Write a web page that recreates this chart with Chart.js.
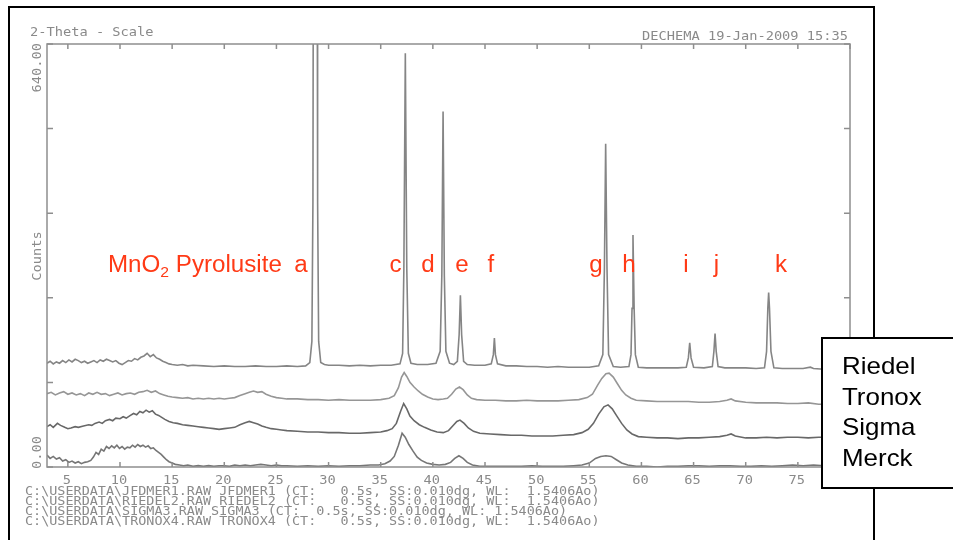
<!DOCTYPE html>
<html>
<head>
<meta charset="utf-8">
<script src="https://cdn.jsdelivr.net/npm/chart.js@4.4.0/dist/chart.umd.min.js"></script>
<style>
html, body { margin: 0; padding: 0; background: #fff; }
#wrap { width: 953px; height: 540px; position: relative; }
</style>
</head>
<body>
<div id="wrap"><canvas id="xrdChart" width="953" height="540"></canvas></div>
<script>
// XRD scans, [2-theta, counts]
const riedelPts = [
  [3.0,157],[3.3,160],[3.6,156],[3.9,159],[4.2,157],[4.5,161],[4.8,158],[5.1,162],[5.4,159],[5.7,163],
  [6.0,161],[6.3,158],[6.6,160],[6.9,157],[7.2,159],[7.5,161],[7.8,158],[8.1,162],[8.4,160],[8.7,163],
  [9.0,161],[9.3,159],[9.6,161],[9.9,157],[10.2,155],[10.5,158],[10.8,161],[11.1,160],[11.4,164],[11.7,162],
  [12.0,166],[12.3,168],[12.6,172],[12.9,167],[13.2,170],[13.5,165],[13.8,163],[14.1,160],[14.4,158],[14.7,156],
  [15.0,155],[15.5,154],[16,155],[16.5,153],[17,154],[18,153],[19,152],[20,153],[21,152],[22,152],
  [23,153],[24,152],[25,152],[26,153],[27,152],[27.8,153],[28.2,158],[28.4,190],[28.5,400],[28.55,900],
  [28.9,900],[28.95,400],[29.05,190],[29.25,158],[29.6,155],[30,154],[31,154],[32,153],[33,154],[34,153],
  [35,154],[36,154],[36.85,156],[37.1,172],[37.22,300],[37.36,626],[37.5,300],[37.65,172],[37.9,157],[38.5,155],
  [39.5,155],[40.3,157],[40.7,175],[40.86,290],[40.98,538],[41.1,290],[41.25,175],[41.6,157],[42.0,155],[42.35,160],
  [42.52,200],[42.64,260],[42.76,200],[42.95,160],[43.3,155],[44,154],[45,154],[45.6,156],[45.8,170],[45.9,195],
  [46.0,170],[46.2,156],[47,153],[48,153],[49,152],[50,152],[51,151],[52,152],[53,151],[54,151],
  [55,151],[55.9,153],[56.3,170],[56.45,300],[56.57,489],[56.7,300],[56.85,170],[57.3,152],[58,151],[58.8,152],
  [59.0,170],[59.1,240],[59.19,351],[59.3,240],[59.42,170],[59.7,151],[60.5,150],[61.5,150],[62.5,150],[63.5,150],
  [64.3,151],[64.5,165],[64.63,188],[64.76,165],[65.0,151],[66,150],[66.8,152],[66.95,175],[67.06,202],[67.17,175],
  [67.35,152],[68,150],[69,150],[70,150],[71,149],[71.8,150],[72.0,175],[72.12,240],[72.2,264],[72.28,240],
  [72.42,175],[72.7,150],[73.5,149],[74.5,149],[75.5,149],[76.2,151],[76.5,149],[77.5,148],[78.5,148],[80,148]
];
const tronoxPts = [
  [3.0,111],[3.4,113],[3.8,109],[4.2,112],[4.6,114],[5.0,110],[5.4,112],[5.8,109],[6.2,111],[6.6,108],
  [7.0,112],[7.4,110],[7.8,113],[8.2,110],[8.6,111],[9.0,108],[9.4,110],[9.8,112],[10.2,109],[10.6,111],
  [11.0,112],[11.4,110],[11.8,113],[12.2,114],[12.6,116],[13.0,113],[13.4,115],[13.8,111],[14.2,109],[14.6,107],
  [15.0,106],[15.5,105],[16,104],[16.5,105],[17,103],[17.5,104],[18,103],[18.5,104],[19,103],[19.5,104],
  [20,103],[20.5,104],[21,105],[21.5,108],[22,111],[22.4,113],[22.8,115],[23.2,113],[23.6,114],[24.0,110],
  [24.5,107],[25,105],[25.5,104],[26,103],[27,103],[28,102],[29,102],[30,101],[31,102],[32,101],
  [33,101],[34,101],[35,102],[35.8,104],[36.3,108],[36.7,120],[37.0,136],[37.25,143],[37.5,137],[37.8,128],
  [38.2,121],[38.6,115],[39.0,110],[39.5,106],[40.0,103],[40.5,102],[41.0,103],[41.4,104],[41.8,110],[42.2,118],
  [42.55,121],[42.9,117],[43.3,109],[43.7,104],[44.2,102],[45,101],[46,101],[47,100],[48,100],[49,101],
  [50,100],[51,100],[52,100],[53,101],[54,102],[54.8,105],[55.3,110],[55.8,124],[56.2,134],[56.6,141],
  [56.9,142],[57.3,136],[57.7,126],[58.1,116],[58.5,109],[59.0,104],[59.5,101],[60.5,100],[61.5,99],[62.5,99],
  [63.5,99],[64.5,99],[65.5,98],[66.5,98],[67.5,99],[68.2,101],[68.6,103],[69.0,100],[70,98],[71,97],
  [72,97],[73,97],[74,96],[75,96],[76,97],[77,95],[78,95],[79,95],[80,95]
];
const sigmaPts = [
  [3.0,61],[3.3,64],[3.6,60],[4.0,66],[4.3,63],[4.7,60],[5.0,58],[5.3,59],[5.7,61],[6.0,60],
  [6.5,62],[7.0,64],[7.3,63],[7.6,66],[8.0,68],[8.3,66],[8.6,70],[9.0,72],[9.3,70],[9.6,74],
  [10.0,73],[10.3,76],[10.6,74],[11.0,78],[11.3,81],[11.6,79],[11.9,84],[12.2,82],[12.5,86],[12.8,83],
  [13.1,85],[13.4,80],[13.7,78],[14.0,75],[14.3,72],[14.7,69],[15.1,67],[15.5,66],[16.0,64],[16.5,63],
  [17.0,62],[17.5,61],[18.0,60],[18.5,59],[19.0,58],[19.5,57],[20.0,58],[20.5,59],[21.0,60],[21.5,64],
  [22.0,67],[22.4,69],[22.8,67],[23.2,65],[23.6,62],[24.0,60],[24.5,58],[25.0,57],[25.5,56],[26,55],
  [27,54],[28,53],[29,53],[30,52],[31,52],[32,51],[33,51],[34,52],[35,53],[35.6,55],
  [36.1,58],[36.5,66],[36.9,84],[37.2,96],[37.5,88],[37.8,77],[38.2,70],[38.7,64],[39.2,60],[39.8,56],
  [40.4,53],[41.0,52],[41.5,55],[41.9,62],[42.3,69],[42.6,71],[43.0,66],[43.4,59],[43.9,54],[44.5,51],
  [45.5,50],[46.5,49],[47.5,48],[48.5,48],[49.5,47],[50.5,47],[51.5,47],[52.5,48],[53.5,49],[54.3,52],
  [54.9,57],[55.4,66],[55.9,80],[56.4,91],[56.8,94],[57.2,88],[57.6,78],[58.1,66],[58.6,56],[59.1,50],
  [59.7,46],[60.5,45],[61.5,44],[62.5,44],[63.5,43],[64.5,44],[65.5,44],[66.5,45],[67.5,46],[68.2,48],
  [68.6,50],[69.0,47],[70,44],[71,44],[72,45],[73,44],[74,45],[75,45],[76,44],[77,45],
  [78,45],[79,44],[80,44]
];
const merckPts = [
  [3.0,18],[3.3,13],[3.6,16],[3.9,12],[4.2,14],[4.5,9],[4.8,11],[5.1,7],[5.4,9],[5.7,6],
  [6.0,8],[6.3,5],[6.6,7],[6.9,8],[7.2,10],[7.45,15],[7.7,22],[7.95,19],[8.2,27],[8.45,24],
  [8.7,31],[8.95,28],[9.2,32],[9.45,29],[9.7,33],[9.95,28],[10.2,31],[10.45,27],[10.7,30],[10.95,29],
  [11.2,33],[11.45,30],[11.7,34],[11.95,31],[12.2,33],[12.45,30],[12.7,32],[12.95,28],[13.2,29],[13.45,25],
  [13.7,22],[13.95,19],[14.2,15],[14.45,11],[14.7,8],[15.0,6],[15.3,4],[15.7,3],[16.1,2],[16.5,3],
  [17,1],[17.5,2],[18,1],[18.5,2],[19,1],[19.5,2],[20,2],[20.5,1],[21,3],[21.5,2],
  [22,3],[22.5,2],[23,3],[23.5,4],[24,3],[24.5,2],[25,3],[25.5,2],[26,2],[27,1],
  [28,2],[29,1],[30,2],[31,1],[32,2],[33,2],[34,3],[34.8,3],[35.4,5],[35.9,9],
  [36.3,16],[36.7,33],[37.05,51],[37.35,45],[37.7,34],[38.1,24],[38.5,15],[38.9,10],[39.4,6],[40.0,4],
  [40.6,3],[41.2,4],[41.7,7],[42.1,13],[42.5,17],[42.9,13],[43.3,7],[43.8,3],[44.5,1],[45.5,1],
  [46.5,1],[47.5,1],[48.5,1],[49.5,2],[50.5,1],[51.5,1],[52.5,1],[53.5,2],[54.3,3],[55.0,6],
  [55.6,13],[56.1,16],[56.6,17],[57.1,16],[57.6,11],[58.1,6],[58.7,3],[59.5,1],[60.5,1],[61.5,0],
  [62.5,1],[63.5,1],[64.5,2],[65.5,2],[66.5,1],[67.5,2],[68.5,2],[69.5,1],[70.5,1],[71.5,2],
  [72.5,1],[73.5,2],[74.5,3],[75.5,2],[76.5,3],[77.5,2],[78.5,3],[79.5,3],[80,3]
];

const seriesNames = ['Riedel', 'Tronox', 'Sigma', 'Merck'];
const seriesColors = ['#858585', '#969696', '#686868', '#767676'];

// axis
const xTickValues = [5, 10, 15, 20, 25, 30, 35, 40, 45, 50, 55, 60, 65, 70, 75, 80];
const yTickValues = [0, 128, 256, 384, 512, 640];
const yMinLabel = '0.00';
const yMaxLabel = '640.00';

// pyrolusite reflections marked in red
const peakLetters = ['a', 'c', 'd', 'e', 'f', 'g', 'h', 'i', 'j', 'k'];
const peakLabelTheta = [27.36, 36.42, 39.53, 42.79, 45.57, 55.64, 58.80, 64.27, 67.19, 73.38];
const peakLabelLevel = 295;
const phaseLabelTheta = 8.85;

const headerLeft = '2-Theta - Scale';
const headerRight = 'DECHEMA 19-Jan-2009 15:35';
const fileLines = [
  'C:\\USERDATA\\JFDMER1.RAW JFDMER1 (CT:   0.5s, SS:0.010dg, WL:  1.5406Ao)',
  'C:\\USERDATA\\RIEDEL2.RAW RIEDEL2 (CT:   0.5s, SS:0.010dg, WL:  1.5406Ao)',
  'C:\\USERDATA\\SIGMA3.RAW SIGMA3 (CT:  0.5s, SS:0.010dg, WL: 1.5406Ao)',
  'C:\\USERDATA\\TRONOX4.RAW TRONOX4 (CT:   0.5s, SS:0.010dg, WL:  1.5406Ao)'
];

const MONO = '"DejaVu Sans Mono", "Liberation Mono", monospace';
const SANS = '"Liberation Sans", Arial, sans-serif';

function wideText(ctx, text, x, y, sx, align) {
  ctx.save();
  ctx.translate(x, y);
  ctx.scale(sx, 1);
  ctx.textAlign = align || 'left';
  ctx.fillText(text, 0, 0);
  ctx.restore();
}

const decorPlugin = {
  id: 'decor',
  beforeDraw(chart) {
    const ctx = chart.ctx;
    ctx.save();
    ctx.fillStyle = '#fff';
    ctx.fillRect(0, 0, chart.width, chart.height);
    ctx.restore();
  },
  afterDatasetsDraw(chart) {
    const { ctx, chartArea: a, scales: { x, y } } = chart;
    ctx.save();

    // plot frame + inward ticks
    ctx.strokeStyle = '#8e8e8e';
    ctx.lineWidth = 1.5;
    ctx.strokeRect(a.left, a.top, a.right - a.left, a.bottom - a.top);
    ctx.beginPath();
    xTickValues.forEach(v => {
      const px = x.getPixelForValue(v);
      ctx.moveTo(px, a.top); ctx.lineTo(px, a.top + 5);
      ctx.moveTo(px, a.bottom); ctx.lineTo(px, a.bottom - 5);
    });
    yTickValues.forEach(v => {
      const py = y.getPixelForValue(v);
      ctx.moveTo(a.left, py); ctx.lineTo(a.left + 6, py);
      ctx.moveTo(a.right, py); ctx.lineTo(a.right - 6, py);
    });
    ctx.stroke();

    // grey printer text
    ctx.fillStyle = '#8a8a8a';
    ctx.font = '12px ' + MONO;
    ctx.textBaseline = 'middle';
    xTickValues.forEach(v => {
      wideText(ctx, String(v), x.getPixelForValue(v) - 1, 481, 1.14, 'center');
    });
    wideText(ctx, headerLeft, 30, 33, 1.14, 'left');
    wideText(ctx, headerRight, 848, 37, 1.14, 'right');
    fileLines.forEach((t, i) => {
      wideText(ctx, t, 25, 492 + i * 9.8, 1.12, 'left');
    });

    // rotated y labels
    const yl = [
      [yMaxLabel, y.getPixelForValue(640) - 1, 'right'],
      ['Counts', 256, 'center'],
      [yMinLabel, y.getPixelForValue(0) + 2, 'left']
    ];
    yl.forEach(([t, py, al]) => {
      ctx.save();
      ctx.translate(38, py);
      ctx.rotate(-Math.PI / 2);
      ctx.scale(1.14, 1);
      ctx.textAlign = al;
      ctx.fillText(t, 0, 0);
      ctx.restore();
    });

    // red annotations
    ctx.fillStyle = '#ff3a16';
    ctx.textBaseline = 'alphabetic';
    const ly = y.getPixelForValue(peakLabelLevel);
    ctx.font = '23px ' + SANS;
    peakLetters.forEach((t, i) => {
      wideText(ctx, t, x.getPixelForValue(peakLabelTheta[i]), ly, 1.05, 'center');
    });
    ctx.save();
    ctx.translate(x.getPixelForValue(phaseLabelTheta), ly);
    ctx.scale(1.05, 1);
    ctx.textAlign = 'left';
    ctx.fillText('MnO', 0, 0);
    let w = ctx.measureText('MnO').width;
    ctx.font = '15px ' + SANS;
    ctx.fillText('2', w, 5);
    w += ctx.measureText('2').width;
    ctx.font = '23px ' + SANS;
    ctx.fillText(' Pyrolusite', w, 0);
    ctx.restore();

    // outer page frame
    ctx.strokeStyle = '#000';
    ctx.lineWidth = 2;
    ctx.strokeRect(9, 7, 865, 560);

    // series legend box
    ctx.fillStyle = '#fff';
    ctx.fillRect(822, 338, 140, 150);
    ctx.strokeRect(822, 338, 140, 150);
    ctx.fillStyle = '#000';
    ctx.font = '24px ' + SANS;
    seriesNames.forEach((n, i) => {
      wideText(ctx, n, 842, 374 + i * 30.5, 1.08, 'left');
    });

    ctx.restore();
  }
};

const toXY = pts => pts.map(p => ({ x: p[0], y: p[1] }));
const allSeries = [riedelPts, tronoxPts, sigmaPts, merckPts];

new Chart(document.getElementById('xrdChart'), {
  type: 'line',
  data: {
    datasets: allSeries.map((pts, i) => ({
      label: seriesNames[i],
      data: toXY(pts),
      borderColor: seriesColors[i],
      borderWidth: 1.6,
      pointRadius: 0,
      tension: 0,
      fill: false
    }))
  },
  options: {
    responsive: false,
    animation: false,
    layout: { padding: { left: 47, top: 44, right: 103, bottom: 73 } },
    plugins: { legend: { display: false }, tooltip: { enabled: false } },
    scales: {
      x: { type: 'linear', min: 3, max: 80, display: false },
      y: { min: 0, max: 640, display: false }
    }
  },
  plugins: [decorPlugin]
});
</script>
</body>
</html>
